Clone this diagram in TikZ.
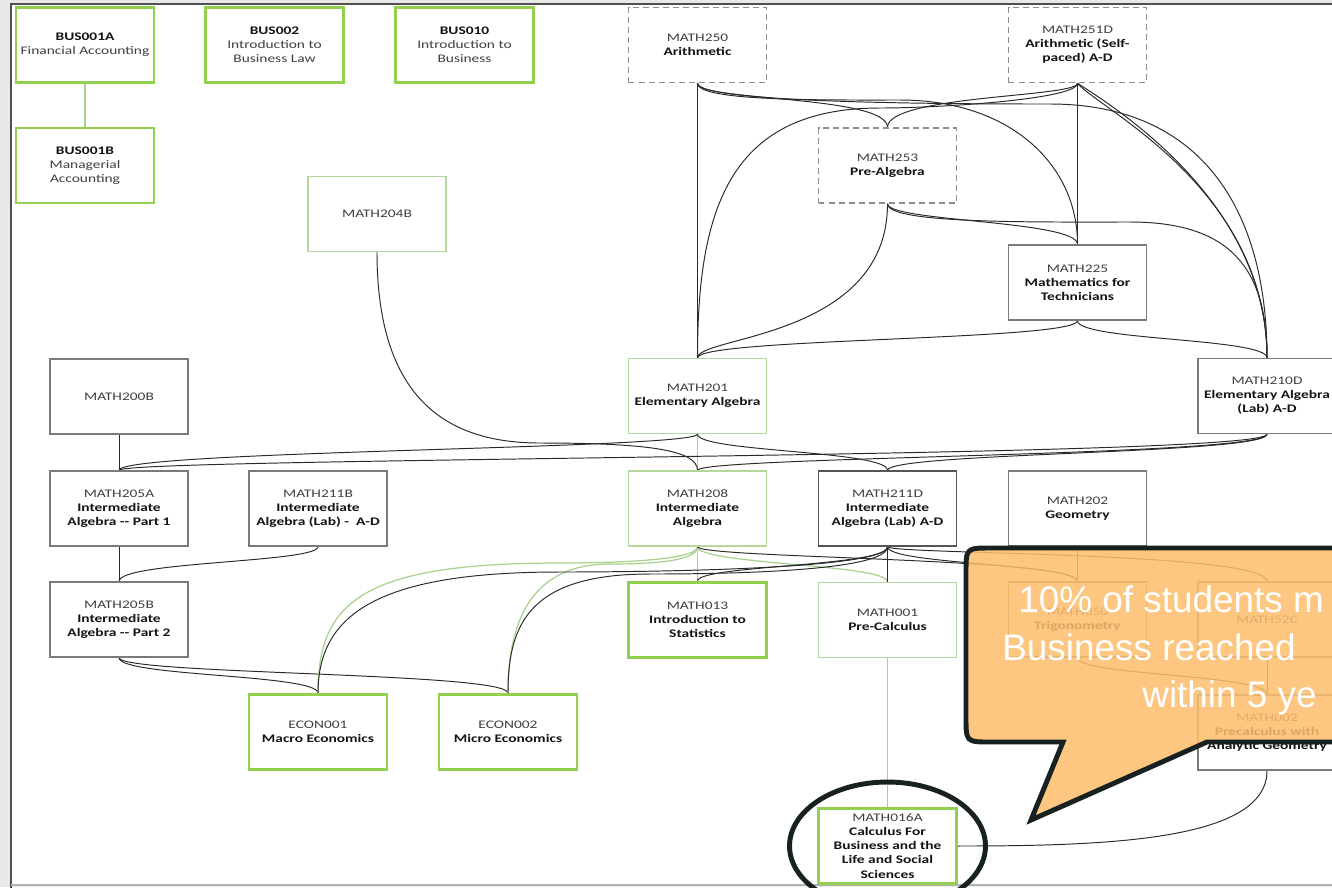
\documentclass[tikz,border=0pt]{standalone}
\usepackage{fontspec}
\setmainfont{Carlito}[FakeStretch=1.33]
\newfontfamily\callfont{Liberation Sans}
\pgfdeclarelayer{bg}
\pgfdeclarelayer{conn}
\pgfsetlayers{bg,conn,main}
\definecolor{gthick}{HTML}{92D050}
\definecolor{glight}{HTML}{B4D89C}
\definecolor{kgray}{HTML}{7A7A7A}
\definecolor{kdark}{HTML}{555555}
\definecolor{dgray}{HTML}{8E8E8E}
\definecolor{codec}{HTML}{404040}
\definecolor{calfill}{HTML}{FDBE6E}
\definecolor{calline}{HTML}{172120}
\definecolor{lnkc}{HTML}{2A2A2A}
\definecolor{glnk}{HTML}{A9D18E}
\definecolor{pagegray}{HTML}{E8E8E8}
\definecolor{framec}{HTML}{505050}
\newcommand\codeT[1]{{\color{codec}#1}}
\newcommand\bizT[1]{{\color{codec}#1}}
\begin{document}
\begin{tikzpicture}[x=0.02cm,y=-0.02cm,
  box/.style={minimum width=2.76cm, minimum height=1.5cm, inner sep=1pt, align=center, fill=white, text=black!92, font=\fontsize{6.6pt}{8pt}\selectfont},
  gbox/.style={box, draw=gthick, line width=1.6pt},
  lbox/.style={box, draw=glight, line width=0.7pt},
  kbox/.style={box, draw=kgray, line width=0.75pt},
  dbox/.style={box, draw=dgray, line width=0.85pt, dash pattern=on 3.4pt off 2.3pt},
  lk/.style={draw=lnkc, line width=0.55pt},
  glk/.style={draw=glnk, line width=0.7pt},
  calltext/.style={text=white, inner sep=0pt, font=\callfont\fontsize{21pt}{25pt}\selectfont}
]
\useasboundingbox (0,0) rectangle (1332,887);
\begin{pgfonlayer}{bg}
\fill[pagegray] (0,0) rectangle (1332,887);
\fill[white] (11,4) rectangle (1340,885);
\draw[framec, line width=1.2pt] (11,890) -- (11,4) -- (1340,4);
\draw[gray!60, line width=0.6pt] (11,885) -- (1340,885);
\end{pgfonlayer}

% nodes
\node[gbox] (B1A) at (85,45) {\textbf{BUS001A}\\\bizT{Financial Accounting}};
\node[gbox] (B2) at (274.5,45) {\textbf{BUS002}\\\bizT{Introduction to}\\\bizT{Business Law}};
\node[gbox] (B10) at (464.5,45) {\textbf{BUS010}\\\bizT{Introduction to}\\\bizT{Business}};
\node[gbox] (B1B) at (85,165.5) {\textbf{BUS001B}\\\bizT{Managerial}\\\bizT{Accounting}};
\node[lbox] (M204) at (377,214) {\codeT{MATH204B}};
\node[dbox] (M250) at (697.5,45) {\codeT{MATH250}\\\textbf{Arithmetic}};
\node[dbox] (M251) at (1077.5,45) {\codeT{MATH251D}\\\textbf{Arithmetic (Self-}\\\textbf{paced) A-D}};
\node[dbox] (M253) at (887.5,165.5) {\codeT{MATH253}\\\textbf{Pre-Algebra}};
\node[kbox] (M225) at (1077.5,282.5) {\codeT{MATH225}\\\textbf{Mathematics for}\\\textbf{Technicians}};
\node[kbox] (M200) at (119,396.5) {\codeT{MATH200B}};
\node[lbox] (M201) at (697.5,396) {\codeT{MATH201}\\\textbf{Elementary Algebra}};
\node[kbox] (M210) at (1267,396) {\codeT{MATH210D}\\\textbf{Elementary Algebra}\\\textbf{(Lab) A-D}};
\node[kbox] (M205A) at (119,508.5) {\codeT{MATH205A}\\\textbf{Intermediate}\\\textbf{Algebra -{}- Part 1}};
\node[kbox] (M211B) at (318,508.5) {\codeT{MATH211B}\\\textbf{Intermediate}\\\textbf{Algebra (Lab) -\ \ A-D}};
\node[lbox] (M208) at (697.5,508.5) {\codeT{MATH208}\\\textbf{Intermediate}\\\textbf{Algebra}};
\node[kbox, draw=kdark] (M211D) at (887.5,508.5) {\codeT{MATH211D}\\\textbf{Intermediate}\\\textbf{Algebra (Lab) A-D}};
\node[kbox] (M202) at (1077.5,508.5) {\codeT{MATH202}\\\textbf{Geometry}};
\node[kbox] (M205B) at (119,619.5) {\codeT{MATH205B}\\\textbf{Intermediate}\\\textbf{Algebra -{}- Part 2}};
\node[gbox] (M013) at (697.5,620) {\codeT{MATH013}\\\textbf{Introduction to}\\\textbf{Statistics}};
\node[lbox] (M001) at (887.5,620) {\codeT{MATH001}\\\textbf{Pre-Calculus}};
\node[kbox] (M050) at (1077.5,619.5) {\codeT{MATH050}\\\textbf{Trigonometry}};
\node[kbox] (M52C) at (1267,619.5) {\codeT{MATH52C}};
\node[gbox] (E1) at (318,732) {\codeT{ECON001}\\\textbf{Macro Economics}};
\node[gbox] (E2) at (508,732) {\codeT{ECON002}\\\textbf{Micro Economics}};
\node[kbox] (M002) at (1267,732.5) {\codeT{MATH002}\\\textbf{Precalculus with}\\\textbf{Analytic Geometry}};
\node[gbox] (M016) at (887.5,846) {\codeT{MATH016A}\\\textbf{Calculus For}\\\textbf{Business and the}\\\textbf{Life and Social}\\\textbf{Sciences}};

% connectors
\begin{pgfonlayer}{conn}
\draw[glk] (B1A.south) -- (B1B.north);
\draw[lk] (M250.south) -- (M201.north);
\draw[lk] (M250.south) .. controls +(0,18) and +(0,-32) .. (M253.north);
\draw[lk] (M251.south) .. controls +(0,14) and +(0,-32) .. (M253.north);
\draw[lk] (M250.south) .. controls +(0,18) and +(-80,0) .. (900,100) .. controls +(110,0) and +(0,-80) .. (M225.north);
\draw[lk] (M250.south) .. controls +(0,20) and +(-100,0) .. (1050,104) .. controls +(150,0) and +(0,-150) .. (M210.north);
\draw[lk] (M251.south) -- (M225.north);
\draw[lk] (M251.south) .. controls +(0,16) and +(60,0) .. (880,108) .. controls +(-150,0) and +(0,-150) .. (M201.north);
\draw[lk] (M251.south) .. controls +(20,25) and +(0,-170) .. (M210.north);
\draw[lk] (M251.south) .. controls +(30,20) and +(0,-160) .. (M210.north);
\draw[lk] (M253.south) .. controls +(0,135) and +(0,-22) .. (M201.north);
\draw[lk] (M253.south) .. controls +(0,18) and +(0,-24) .. (M225.north);
\draw[lk] (M253.south) .. controls +(0,20) and +(-100,0) .. (1130,222) .. controls +(100,0) and +(0,-90) .. (M210.north);
\draw[lk] (M225.south) .. controls +(0,20) and +(0,-20) .. (M201.north);
\draw[lk] (M225.south) .. controls +(0,20) and +(0,-20) .. (M210.north);
\draw[glk] (M201.south) -- (M208.north);
\draw[lk] (M201.south) .. controls +(0,15) and +(0,-20) .. (M205A.north);
\draw[lk] (M201.south) .. controls +(0,18) and +(0,-20) .. (M211D.north);
\draw[lk] (M204.south) .. controls +(0,150) and +(-90,0) .. (540,443) .. controls +(110,0) and +(0,-20) .. (M208.north);
\draw[lk] (M210.south) .. controls +(0,20) and +(0,-18) .. (M211D.north);
\draw[lk] (M210.south) .. controls +(0,22) and +(0,-14) .. (M208.north);
\draw[lk] (M210.south) .. controls +(0,24) and +(0,-13) .. (M205A.north);
\draw[lk] (M200.south) -- (M205A.north);
\draw[lk] (M205A.south) -- (M205B.north);
\draw[lk] (M211B.south) .. controls +(0,16) and +(0,-20) .. (M205B.north);
\draw[lk] (M205B.south) .. controls +(0,19) and +(0,-19) .. (E1.north);
\draw[lk] (M205B.south) .. controls +(0,17) and +(0,-21) .. (E2.north);
\draw[glk] (M208.south) -- (M013.north);
\draw[glk] (M208.south) .. controls +(0,15) and +(40,0) .. (560,563) .. controls +(-200,0) and +(0,-90) .. (E1.north);
\draw[glk] (M208.south) .. controls +(0,15) and +(40,0) .. (610,564) .. controls +(-80,0) and +(0,-70) .. (E2.north);
\draw[glk] (M208.south) .. controls +(0,18) and +(0,-18) .. (M001.north);
\draw[lk] (M211D.south) -- (M001.north);
\draw[lk] (M211D.south) .. controls +(0,20) and +(0,-16) .. (M013.north);
\draw[lk] (M211D.south) .. controls +(0,24) and +(60,0) .. (560,572) .. controls +(-180,0) and +(0,-80) .. (E1.north);
\draw[lk] (M211D.south) .. controls +(0,26) and +(60,0) .. (650,574) .. controls +(-120,0) and +(0,-70) .. (E2.north);
\draw[lk] (M211D.south) .. controls +(0,18) and +(0,-18) .. (M050.north);
\draw[lk] (M208.south) .. controls +(0,12) and +(0,-24) .. (M050.north);
\draw[lk] (M211D.south) .. controls +(0,8) and +(0,-30) .. (M52C.north);
\draw[lk] (M202.south) -- (M050.north);
\draw[lk] (M050.south) .. controls +(0,18) and +(0,-20) .. (M002.north);
\draw[lk] (M52C.south) -- (M002.north);
\draw[glk] (M001.south) -- (M016.north);
\draw[lk] (M002.south) .. controls +(0,70) and +(150,0) .. (M016.east);
\end{pgfonlayer}

% callout
\filldraw[fill=calfill, fill opacity=0.86, draw=calline, line width=2.8pt]
  (1063,742) -- (991,742) .. controls (966,742) .. (966,717) -- (966,573)
  .. controls (966,548) .. (991,548) -- (1345,548) -- (1345,742) -- (1207,742) -- (1031,820) -- cycle;
\node[calltext, anchor=base west] (ct1) at (1018,612) {10\% of students m};
\node[calltext, anchor=base west] (ct2) at (1002,660) {Business reached};
\node[calltext, anchor=base west] (ct3) at (1142,707) {within 5 ye};

% highlight ring
\draw[calline, line width=2.8pt] (M016.center) ellipse [x radius=1.96cm, y radius=1.28cm];
\end{tikzpicture}
\end{document}
